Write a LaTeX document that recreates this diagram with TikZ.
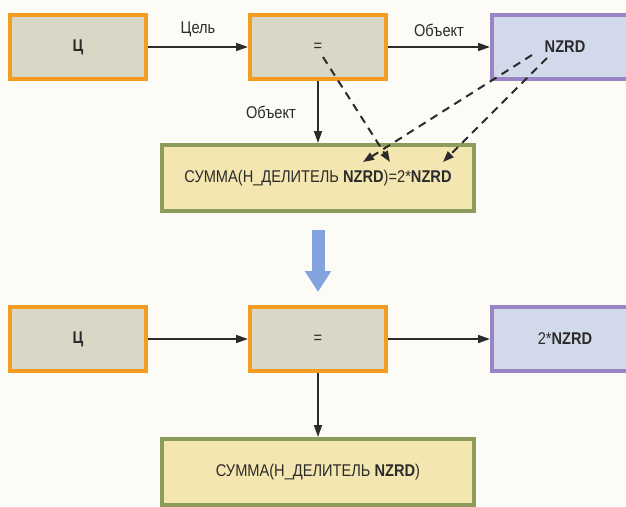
\documentclass[tikz,border=0pt]{standalone}
\usepackage{fontspec}
\setmainfont{Liberation Sans}[FakeStretch=0.86]
\usetikzlibrary{arrows.meta,calc,positioning}
\definecolor{orangeedge}{HTML}{F39C22}
\definecolor{greyfill}{HTML}{D9D8C7}
\definecolor{violetedge}{HTML}{9985C6}
\definecolor{bluefill}{HTML}{D2D9EA}
\definecolor{oliveedge}{HTML}{8D9C5A}
\definecolor{creamfill}{HTML}{F4E6B0}
\definecolor{ink}{HTML}{2B2B2B}
\definecolor{skyarrow}{HTML}{83A3DF}
\definecolor{paper}{HTML}{FCFBF6}

\begin{document}
\begin{tikzpicture}[x=1pt,y=1pt,every node/.style={font=\fontsize{17}{20}\selectfont,text=ink},
  obj/.style={draw=orangeedge,fill=greyfill,line width=4pt,minimum width=136pt,minimum height=64pt},
  res/.style={obj,draw=violetedge,fill=bluefill,minimum width=146pt},
  frm/.style={obj,draw=oliveedge,fill=creamfill,minimum width=312pt,minimum height=66pt},
  a/.style={-{Triangle[length=12pt,width=8pt]},draw=ink,line width=1.6pt},
  d/.style={draw=ink,line width=2pt,dash pattern=on 8pt off 6pt,-{Triangle[length=11pt,width=8pt]}},
  big/.style={-{Triangle[length=21pt,width=25pt]},draw=skyarrow,line width=13pt}]
  \fill[paper] (0,0) rectangle (626,-506);
  \useasboundingbox (0,0) rectangle (626,-506);
  % before
  \node[obj] (c1) at (78,-47) {\textbf{Ц}};
  \node[obj,right=100pt of c1] (eq1) {=};
  \node[res,right=102pt of eq1] (nz1) {\textbf{NZRD}};
  \node[frm,below=62pt of eq1] (f1) {СУММА(Н\_ДЕЛИТЕЛЬ \textbf{NZRD})=2*\textbf{NZRD}};
  \draw[a] (c1) -- node[above=6pt] {Цель} (eq1);
  \draw[a] (eq1) -- node[above=6pt] {Объект} (nz1);
  \draw[a] (eq1) -- node[left=18pt] {Объект} (f1);
  \coordinate (p1) at ($(eq1.center)+(5,-10)$);
  \coordinate (p2) at ($(nz1.center)+(-33,-8)$);
  \coordinate (p3) at ($(nz1.center)+(-18,-11)$);
  \coordinate (q1) at ($(f1.center)+(72,16)$);
  \coordinate (q2) at ($(f1.center)+(45,16)$);
  \coordinate (q3) at ($(f1.center)+(125,16)$);
  \draw[d] (p1) -- (q1);
  \draw[d] (p2) -- (q2);
  \draw[d] (p3) -- (q3);
  % after
  \node[obj] (c2) at (78,-339) {\textbf{Ц}};
  \node[obj,right=100pt of c2] (eq2) {=};
  \node[res,right=102pt of eq2] (nz2) {2*\textbf{NZRD}};
  \node[frm,below=64pt of eq2] (f2) {СУММА(Н\_ДЕЛИТЕЛЬ \textbf{NZRD})};
  \draw[a] (c2) -- (eq2);
  \draw[a] (eq2) -- (nz2);
  \draw[a] (eq2) -- (f2);
  \draw[big,shorten <=17pt,shorten >=13pt] (f1) -- (eq2);
\end{tikzpicture}
\end{document}
